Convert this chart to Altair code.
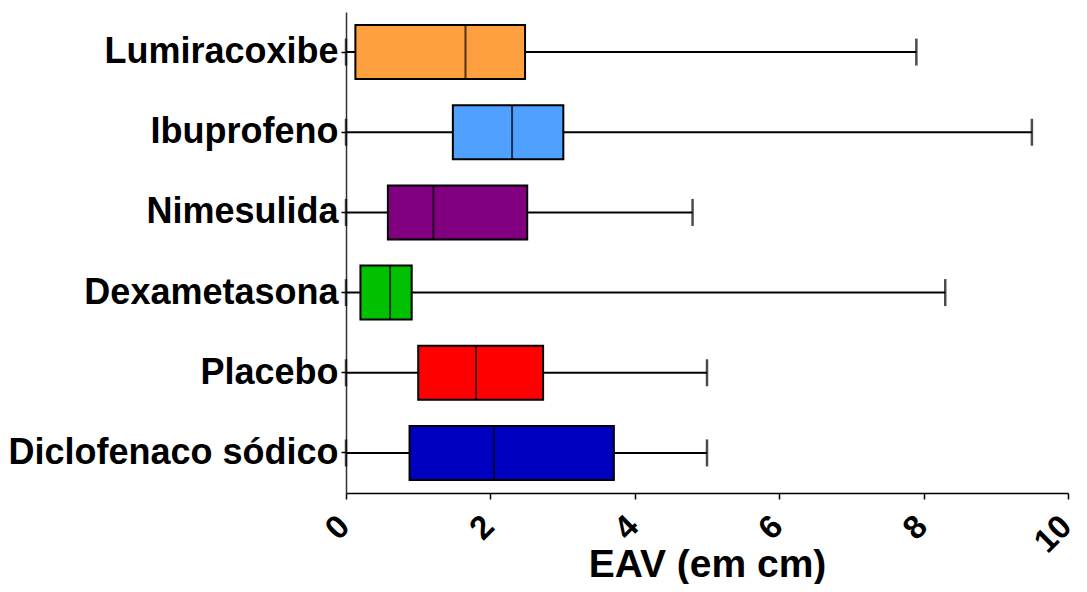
import altair as alt
import pandas as pd

categories = ["Lumiracoxibe", "Ibuprofeno", "Nimesulida", "Dexametasona", "Placebo", "Diclofenaco sódico"]
mins = [0.0, 0.0, 0.0, 0.0, 0.0, 0.0]
q1s = [0.13, 1.48, 0.58, 0.20, 1.0, 0.88]
medians = [1.655, 2.30, 1.21, 0.61, 1.80, 2.05]
q3s = [2.48, 3.01, 2.51, 0.91, 2.73, 3.71]
maxs = [7.90, 9.50, 4.80, 8.30, 5.0, 5.0]
colors = ["#FFA040", "#50A0FF", "#800080", "#00C000", "#FF0000", "#0000C0"]

df = pd.DataFrame({
    "cat": categories, "min": mins, "q1": q1s, "med": medians, "q3": q3s, "max": maxs
})

FONT = "Liberation Sans"

y = alt.Y("cat:N", sort=categories,
          scale=alt.Scale(paddingInner=0, paddingOuter=0),
          axis=alt.Axis(title=None, labelFont=FONT, labelFontSize=36, labelFontWeight="bold",
                        labelColor="black", labelPadding=3, tickSize=5, tickColor="black",
                        tickWidth=1.5, domainColor="#333333", domainWidth=1.5, labelLimit=400))
xscale = alt.Scale(domain=[0, 10], nice=False)
xaxis = alt.Axis(title="EAV (em cm)", values=[0, 2, 4, 6, 8, 10], format="d", labelAngle=-45,
                 labelAlign="right", labelBaseline="middle", labelFont=FONT,
                 labelFontSize=33, labelFontWeight="bold", labelColor="black",
                 labelPadding=22, labelOffset=-2, tickSize=6, tickColor="black", tickWidth=1.5,
                 domainColor="black", domainWidth=1.5, titleFont=FONT, titleFontSize=39,
                 titleFontWeight="bold", titleColor="black", titleBaseline="alphabetic",
                 titleY=83, grid=False, labelFlush=False, labelOverlap=False)

base = alt.Chart(df)

whisker = base.mark_rule(color="black", strokeWidth=2).encode(
    x=alt.X("min:Q", scale=xscale, axis=xaxis), x2="max:Q", y=y)
box = base.mark_bar(size=54, stroke="black", strokeWidth=2).encode(
    x=alt.X("q1:Q", scale=xscale), x2="q3:Q", y=y,
    color=alt.Color("cat:N", scale=alt.Scale(domain=categories, range=colors), legend=None))
median = base.mark_tick(color="black", thickness=2, size=54).encode(
    x=alt.X("med:Q", scale=xscale), y=y)
cap_hi = base.mark_tick(color="black", thickness=2.5, size=27).encode(
    x=alt.X("max:Q", scale=xscale), y=y)
cap_lo = base.mark_tick(color="black", thickness=2.5, size=27).encode(
    x=alt.X("min:Q", scale=xscale), y=y)

chart = alt.layer(whisker, box, median, cap_hi, cap_lo).properties(
    width=722, height=481,
    autosize=alt.AutoSizeParams(type="none"),
    padding={"left": 338, "top": 4, "right": 11, "bottom": 91},
    background="white"
).configure_view(stroke=None)

chart.save("out.html", embed_options={"renderer": "svg", "actions": False})
